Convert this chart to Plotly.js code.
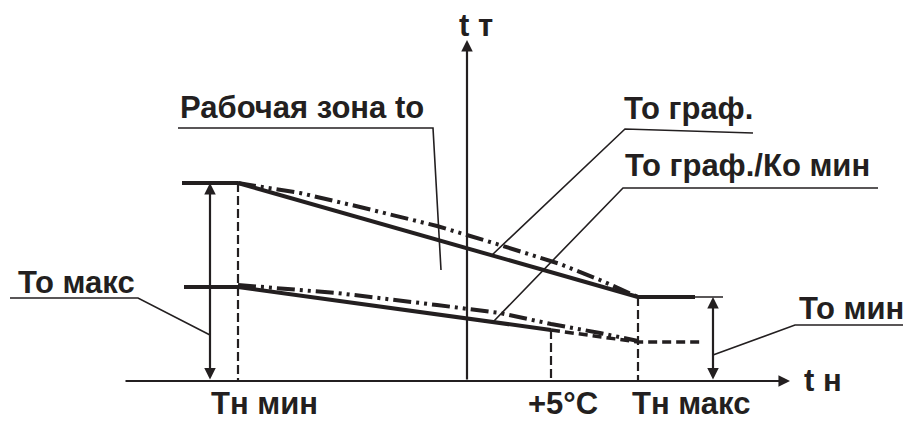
<!DOCTYPE html>
<html><head><meta charset="utf-8">
<script src="https://cdn.plot.ly/plotly-3.0.1.min.js"></script>
<style>html,body{margin:0;padding:0;background:#fff}</style>
</head><body><div id="chart" style="width:903px;height:421px"></div>
<script>
const INK = '#231f20';
const FONT = 'Liberation Sans, Arial, sans-serif';

// Axes of the schematic
const tnAxisX = [124, 790]; const tnAxisY = [381, 381];
const ttAxisX = [467, 467]; const ttAxisY = [381, 40];

// Upper curve (То граф.)
const upperSolidX = [238, 638]; const upperSolidY = [183, 297];
const upperDashX = [238, 300, 360, 437, 500, 560, 600, 638];
const upperDashY = [183, 193, 207, 226, 245, 264, 280, 297];
const upperCapX = [182, 238]; const upperCapY = [183, 183];
const rightCapX = [638, 695]; const rightCapY = [297, 297];
const rightThinX = [695, 723]; const rightThinY = [297, 297];

// Lower curve (То граф./Ко мин)
const lowerSolidX = [238, 551]; const lowerSolidY = [287, 330];
const lowerDashedX = [551, 638, 700]; const lowerDashedY = [330, 342, 342];
const lowerDashDotX = [238, 337, 437, 500, 551, 600, 638];
const lowerDashDotY = [285, 293, 305, 313, 324, 333, 341];
const lowerCapX = [184, 238]; const lowerCapY = [287, 287];

// Vertical dashed guides: Тн мин, +5°C, Тн макс
const guideX = [238, 551, 638];
const guideTop = [183, 330, 297];
const guideBottom = [381, 381, 381];

// Double arrows (То макс range, То мин range)
const dblX = [210, 713]; const dblTop = [183, 297]; const dblBottom = [381, 381];

// Leader lines
const leadMaxX = [10, 138, 210];   const leadMaxY = [298, 298, 335];
const leadZoneX = [178, 433, 441]; const leadZoneY = [128, 128, 270];
const leadGrafX = [753, 625, 492]; const leadGrafY = [133, 129, 255];
const leadKoX = [878, 623, 493];   const leadKoY = [188, 188, 322];
const leadMinX = [903, 795, 713];  const leadMinY = [325, 325, 355];

// Labels
const labelText = ['t т', 'Рабочая зона to', 'То граф.', 'То граф./Ко мин', 'То макс', 'То мин', 't н', 'Тн мин', '+5°C', 'Тн макс'];
const labelX = [457, 178, 622, 623, 16, 797, 802, 209, 526, 630];
const labelY = [25, 107, 108, 165, 282, 308, 380, 403, 403, 403];

const DDD = '18px,5px,3px,5px,3px,5px';
function ln(x, y, w, dash) {
  return {x: x, y: y, type: 'scatter', mode: 'lines', hoverinfo: 'skip', showlegend: false,
          line: {color: INK, width: w, dash: dash || 'solid'}};
}
const traces = [
  ln(upperDashX, upperDashY, 4, DDD),
  ln(upperSolidX, upperSolidY, 4),
  ln(upperCapX, upperCapY, 4),
  ln(rightCapX, rightCapY, 4),
  ln(rightThinX, rightThinY, 1.5),
  ln(lowerDashDotX, lowerDashDotY, 4, DDD),
  ln(lowerSolidX, lowerSolidY, 4),
  ln(lowerDashedX, lowerDashedY, 3.5, '9px,5px'),
  ln(lowerCapX, lowerCapY, 4),
  ln(leadMaxX, leadMaxY, 1.6),
  ln(leadZoneX, leadZoneY, 1.6),
  ln(leadGrafX, leadGrafY, 1.6),
  ln(leadKoX, leadKoY, 1.6),
  ln(leadMinX, leadMinY, 1.6)
];
guideX.forEach((gx, i) => traces.push(ln([gx, gx], [guideTop[i], guideBottom[i]], 2.2, '9px,4px')));

const annotations = [];
function arrow(x0, y0, x1, y1, both) {
  const a = {x: x1, y: y1, ax: x0, ay: y0, xref: 'x', yref: 'y', axref: 'x', ayref: 'y',
             text: '', showarrow: true, arrowcolor: INK, arrowwidth: 2.2, arrowhead: 2, arrowsize: 1.05, standoff: 0};
  if (both) { a.arrowside = 'end+start'; a.startarrowhead = 2; a.startarrowsize = 1.05; a.startstandoff = 0; }
  annotations.push(a);
}
arrow(tnAxisX[0], tnAxisY[0], tnAxisX[1], tnAxisY[1], false);
arrow(ttAxisX[0], ttAxisY[0], ttAxisX[1], ttAxisY[1], false);
dblX.forEach((dx, i) => arrow(dx, dblBottom[i], dx, dblTop[i], true));

labelText.forEach((t, i) => annotations.push({
  x: labelX[i], y: labelY[i], xref: 'x', yref: 'y', text: '<b>' + t + '</b>', showarrow: false,
  xanchor: 'left', yanchor: 'middle', font: {family: FONT, size: 31, color: INK}
}));

const layout = {
  width: 903, height: 421, margin: {l: 0, r: 0, t: 0, b: 0},
  paper_bgcolor: '#fff', plot_bgcolor: '#fff', showlegend: false,
  xaxis: {range: [0, 903], visible: false, fixedrange: true},
  yaxis: {range: [421, 0], visible: false, fixedrange: true},
  annotations: annotations
};
Plotly.newPlot('chart', traces, layout, {displayModeBar: false, staticPlot: true});
</script></body></html>
